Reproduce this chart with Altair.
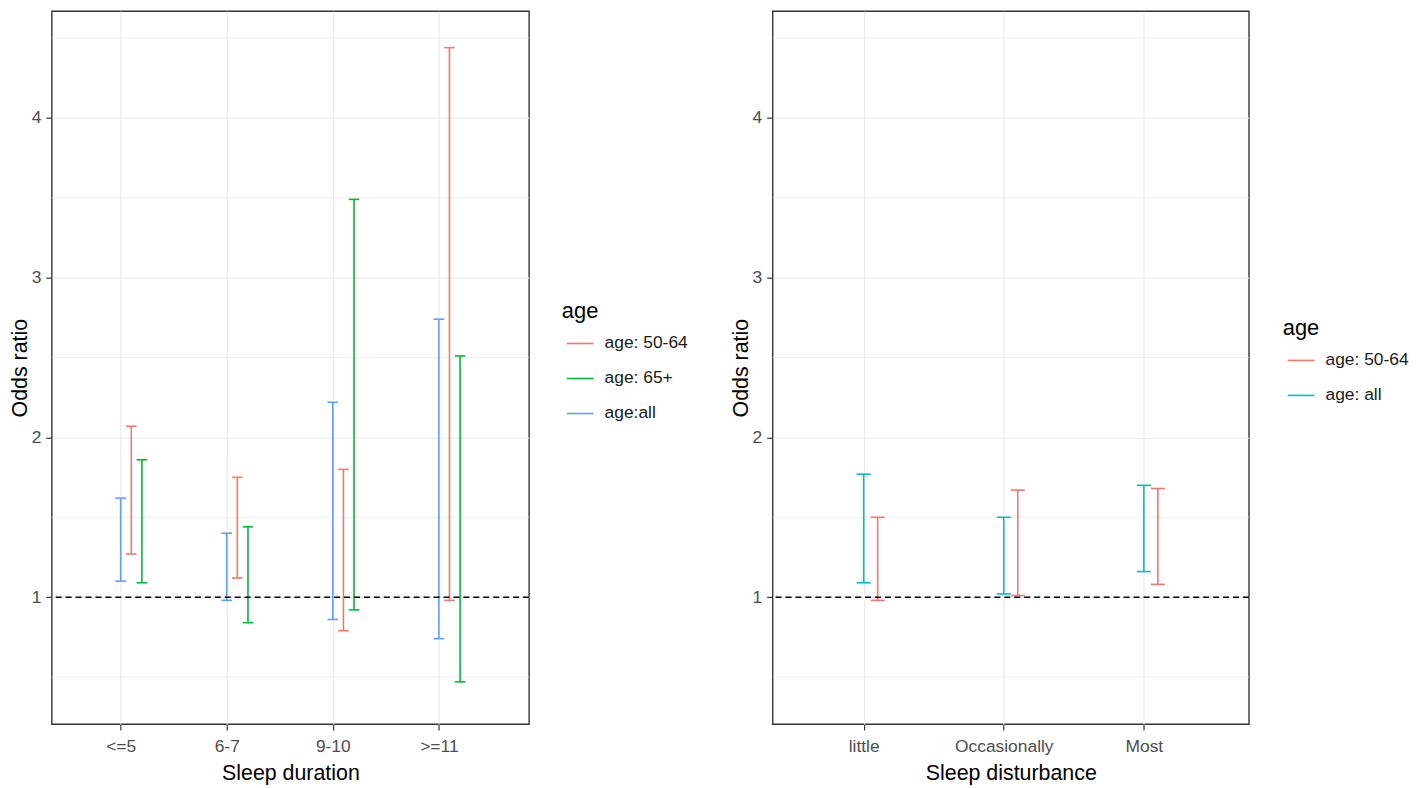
import altair as alt
import pandas as pd

# ---------------- data ----------------
# Left panel: sleep duration
dur_categories = ["<=5", "6-7", "9-10", ">=11"]
dur_groups = ["age: 50-64", "age: 65+", "age:all"]
dur_lower = {
    "age:all":    [1.10, 0.98, 0.86, 0.74],
    "age: 50-64": [1.27, 1.12, 0.79, 0.98],
    "age: 65+":   [1.09, 0.84, 0.92, 0.47],
}
dur_upper = {
    "age:all":    [1.62, 1.40, 2.22, 2.74],
    "age: 50-64": [2.07, 1.75, 1.80, 4.44],
    "age: 65+":   [1.86, 1.44, 3.49, 2.51],
}

# Right panel: sleep disturbance
dist_categories = ["little", "Occasionally", "Most"]
dist_groups = ["age: 50-64", "age: all"]
dist_lower = {
    "age: all":   [1.09, 1.02, 1.16],
    "age: 50-64": [0.98, 1.01, 1.08],
}
dist_upper = {
    "age: all":   [1.77, 1.50, 1.70],
    "age: 50-64": [1.50, 1.67, 1.68],
}

reference_value = [1]
minor_breaks = [0.5, 1.5, 2.5, 3.5, 4.5]
major_breaks = [1, 2, 3, 4]

# ---------------- styling ----------------
dur_colors = ["#F8766D", "#00BA38", "#619CFF"]
dist_colors = ["#F8766D", "#00BFC4"]
dur_dodge = {"age:all": 0.0, "age: 50-64": 0.1, "age: 65+": 0.2}
dist_dodge = {"age: all": 0.0, "age: 50-64": 0.1}
CAP = 0.05
Y_DOMAIN = [0.205, 4.668]
FONT = "Liberation Sans"
LW = 1.6


def build_table(cats, lower, upper, dodge):
    rows = []
    for g in lower:
        for i, c in enumerate(cats):
            rows.append({
                "cat": c,
                "group": g,
                "x": i + 1 + dodge[g],
                "lower": lower[g][i],
                "upper": upper[g][i],
            })
    return pd.DataFrame(rows)


def panel(df, cats, groups, colors, xtitle, xdomain, width, height, legend_y):
    label_expr = "[" + ",".join("'%s'" % c for c in cats) + "][datum.value - 1]"
    xscale = alt.Scale(domain=xdomain, nice=False, zero=False)
    yscale = alt.Scale(domain=Y_DOMAIN, nice=False, zero=False)
    xaxis = alt.Axis(values=list(range(1, len(cats) + 1)), labelExpr=label_expr,
                     title=xtitle, grid=True, labelPadding=8, titlePadding=7)
    yaxis = alt.Axis(values=major_breaks, title="Odds ratio", grid=True, format="d",
                     titlePadding=0)
    color = alt.Color(
        "group:N",
        scale=alt.Scale(domain=groups, range=colors),
        legend=alt.Legend(title="age", orient="none", legendX=513, legendY=legend_y),
    )

    minor = alt.Chart(pd.DataFrame({"v": minor_breaks})).mark_rule(
        color="#EBEBEB", strokeWidth=0.7
    ).encode(y=alt.Y("v:Q", scale=yscale, axis=yaxis))

    base = alt.Chart(df).transform_calculate(
        xl="datum.x - %f" % CAP, xr="datum.x + %f" % CAP
    )
    stems = base.mark_rule(strokeWidth=LW).encode(
        x=alt.X("x:Q", scale=xscale, axis=xaxis),
        y=alt.Y("lower:Q", scale=yscale, axis=yaxis),
        y2="upper:Q",
        color=color,
    )
    cap_top = base.mark_rule(strokeWidth=LW).encode(
        x=alt.X("xl:Q", scale=xscale, axis=xaxis),
        x2="xr:Q",
        y=alt.Y("upper:Q", scale=yscale, axis=yaxis),
        color=color,
    )
    cap_bot = base.mark_rule(strokeWidth=LW).encode(
        x=alt.X("xl:Q", scale=xscale, axis=xaxis),
        x2="xr:Q",
        y=alt.Y("lower:Q", scale=yscale, axis=yaxis),
        color=color,
    )
    ref = alt.Chart(pd.DataFrame({"v": reference_value})).mark_rule(
        color="black", strokeWidth=1.5, strokeDash=[6, 4]
    ).encode(y=alt.Y("v:Q", scale=yscale, axis=yaxis))

    return alt.layer(minor, stems, cap_top, cap_bot, ref).properties(
        width=width, height=height
    )


dur_df = build_table(dur_categories, dur_lower, dur_upper, dur_dodge)
dist_df = build_table(dist_categories, dist_lower, dist_upper, dist_dodge)

H = 717
left = panel(dur_df, dur_categories, dur_groups, dur_colors, "Sleep duration",
             [0.35, 4.85], 480, H, 292)
right = panel(dist_df, dist_categories, dist_groups, dist_colors, "Sleep disturbance",
              [0.35, 3.75], 479, H, 309)

chart = (
    alt.hconcat(left, right, spacing=245, bounds="flush")
    .resolve_scale(color="independent", x="independent", y="independent")
    .resolve_legend(color="independent")
    .properties(padding={"left": 0, "top": 0, "right": 0, "bottom": 0})
    .configure(font=FONT)
    .configure_view(stroke="#333333", strokeWidth=1.4)
    .configure_axis(
        domain=False,
        gridColor="#EBEBEB",
        gridWidth=1.2,
        tickColor="#333333",
        tickWidth=1.2,
        tickSize=6,
        labelFont=FONT,
        labelFontSize=17.5,
        labelColor="#4D4D4D",
        labelPadding=5,
        titleFont=FONT,
        titleFontSize=21.5,
        titleFontWeight="normal",
        titleColor="black",
    )
    .configure_legend(
        titleFont=FONT,
        titleFontSize=22,
        titleFontWeight="normal",
        titleColor="black",
        titlePadding=5.7,
        labelFont=FONT,
        labelFontSize=17.5,
        labelColor="#1A1A1A",
        labelOffset=10,
        symbolType="stroke",
        symbolSize=729,
        symbolStrokeWidth=1.6,
        symbolOffset=4,
        rowPadding=12.2,
        padding=0,
    )
)

chart.save("out.html", embed_options={"renderer": "svg", "actions": False})
